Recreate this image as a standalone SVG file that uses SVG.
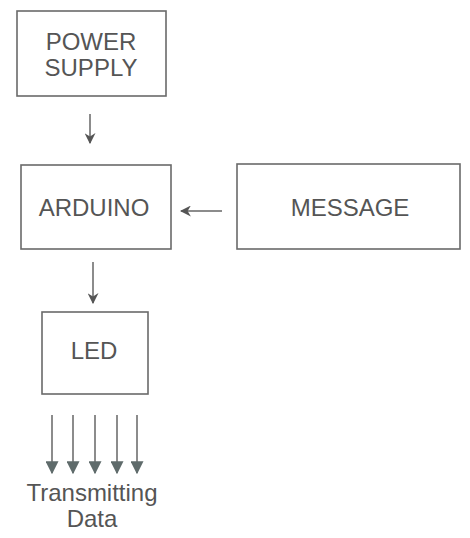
<svg xmlns="http://www.w3.org/2000/svg" width="470" height="538" viewBox="0 0 470 538">
<defs>
<style>
.box{fill:#fff;stroke:#6a6a6a;stroke-width:1.6}
.lbl{font-family:"Liberation Sans",Arial,sans-serif;font-size:24px;fill:#555;text-anchor:middle}
.conn{stroke:#666;stroke-width:1.5;fill:none}
</style>
<marker id="ah" viewBox="0 0 10 10" refX="9" refY="5" markerWidth="11" markerHeight="11" markerUnits="userSpaceOnUse" orient="auto">
<path d="M0,0 L10,5 L0,10 L3,5 Z" fill="#555"/>
</marker>
<marker id="ahs" viewBox="0 0 10 10" refX="9" refY="5" markerWidth="13" markerHeight="13" markerUnits="userSpaceOnUse" orient="auto">
<path d="M0,0 L10,5 L0,10 Z" fill="#5f6b6b"/>
</marker>
</defs>
<rect width="470" height="538" fill="#fff"/>
<g id="power">
<rect class="box" x="17" y="11" width="149" height="85"/>
<text class="lbl" x="91" y="50">POWER</text>
<text class="lbl" x="91" y="76">SUPPLY</text>
</g>
<g id="arduino">
<rect class="box" x="21" y="165" width="150" height="84"/>
<text class="lbl" x="94" y="216">ARDUINO</text>
</g>
<g id="message">
<rect class="box" x="237" y="164" width="223" height="85"/>
<text class="lbl" x="350" y="216">MESSAGE</text>
</g>
<g id="led">
<rect class="box" x="42" y="312" width="106" height="82"/>
<text class="lbl" x="94" y="359">LED</text>
</g>
<g id="output">
<text class="lbl" x="92" y="501">Transmitting</text>
<text class="lbl" x="92" y="527">Data</text>
</g>
<g id="connectors">
<line class="conn" x1="90" y1="114" x2="90" y2="143" marker-end="url(#ah)"/>
<line class="conn" x1="222" y1="211" x2="181" y2="211" marker-end="url(#ah)"/>
<line class="conn" x1="93" y1="262" x2="93" y2="303" marker-end="url(#ah)"/>
<line class="conn" x1="52" y1="415" x2="52" y2="473" marker-end="url(#ahs)"/>
<line class="conn" x1="73" y1="415" x2="73" y2="473" marker-end="url(#ahs)"/>
<line class="conn" x1="95" y1="415" x2="95" y2="473" marker-end="url(#ahs)"/>
<line class="conn" x1="117" y1="415" x2="117" y2="473" marker-end="url(#ahs)"/>
<line class="conn" x1="137" y1="415" x2="137" y2="473" marker-end="url(#ahs)"/>
</g>
</svg>
